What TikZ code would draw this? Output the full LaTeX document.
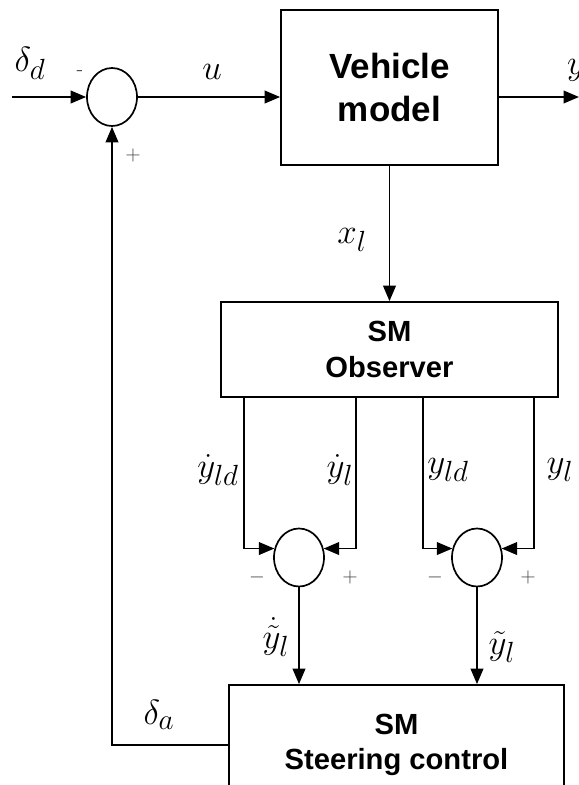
\documentclass[tikz,border=0pt]{standalone}
\usepackage{fontspec}
\setsansfont{Liberation Sans}
\usepackage{amsmath,amssymb}
\usepackage{tikz}
\usetikzlibrary{arrows.meta,shapes.geometric,positioning}
\tikzset{
  ctlbox/.style={rectangle, draw=black, line width=1.2pt, fill=white,
                 align=center, font=\huge\sffamily\bfseries},
  ctlsum/.style={ellipse, draw=black, line width=1.2pt, fill=white,
                 minimum width=1.25cm, minimum height=1.45cm, inner sep=0pt},
  ctlw/.style={line width=1.2pt, -{Triangle[length=11pt,width=9pt]}},
  ctllab/.style={font=\Huge, inner sep=0pt},
  ctlsgn/.style={font=\Large, text=black!75, inner sep=0pt}
}
\begin{document}
\begin{tikzpicture}[x=0.025cm, y=-0.025cm]
  \useasboundingbox (0,0) rectangle (579,785);
  \clip (0,0) rectangle (579,785);
  % blocks
  \node[ctlbox, font=\Huge\sffamily\bfseries, minimum width=5.425cm,
        minimum height=3.875cm] (veh) at (389.5,87.5) {Vehicle\\model};
  \node[ctlbox, minimum width=8.425cm, minimum height=2.375cm]
        (obs) at (389.5,349.5) {SM\\Observer};
  \node[ctlbox, minimum width=8.375cm, minimum height=3cm]
        (ster) at (396.5,745) {SM\\Steering control};
  % summing junctions
  \node[ctlsum] (s1) at (112,97) {};
  \node[ctlsum] (s2) at (299,557.5) {};
  \node[ctlsum] (s3) at (477,557.5) {};
  % free ends
  \coordinate (in) at (12,97);
  \coordinate (out) at (579,97);
  \coordinate (o1) at (244,397);
  \coordinate (o2) at (356,397);
  \coordinate (o3) at (423,397);
  \coordinate (o4) at (534,397);
  % wires
  \draw[ctlw] (in) -- (s1);
  \draw[ctlw] (s1.east) -- (s1.east -| veh.west);
  \draw[ctlw] (veh.east |- out) -- (out);
  \draw[ctlw] (veh.south) -- (obs.north);
  \draw[ctlw] (o1) |- (s2.160);
  \draw[ctlw] (o2) |- (s2.20);
  \draw[ctlw] (o3) |- (s3.160);
  \draw[ctlw] (o4) |- (s3.20);
  \draw[ctlw] (s2.south) -- (s2.south |- ster.north);
  \draw[ctlw] (s3.south) -- (s3.south |- ster.north);
  \draw[ctlw] (ster.west) -| (s1.south);
  % labels
  \node[ctllab] (ldd) at (30,63) {$\delta_d$};
  \node[ctllab] (lu) at (212,72) {$u$};
  \node[ctllab] (ly) at (576,70) {$y$};
  \node[ctllab] (lx) at (352,240) {$x_l$};
  \node[ctllab] (lyd1) at (218,470) {$\dot{y}_{ld}$};
  \node[ctllab] (lyd2) at (340,470) {$\dot{y}_l$};
  \node[ctllab] (lyd3) at (448,470) {$y_{ld}$};
  \node[ctllab] (lyd4) at (560,470) {$y_l$};
  \node[ctllab] (le1) at (276,637) {$\dot{\tilde{y}}_l$};
  \node[ctllab] (le2) at (502,647) {$\tilde{y}_l$};
  \node[ctllab] (lda) at (159,715) {$\delta_a$};
  % signs
  \node[ctlsgn] (g1) at (80,73) {-};
  \node[ctlsgn] (g2) at (133,155) {$+$};
  \node[ctlsgn] (g3) at (257,577) {$-$};
  \node[ctlsgn] (g4) at (350,577) {$+$};
  \node[ctlsgn] (g5) at (435,577) {$-$};
  \node[ctlsgn] (g6) at (528,577) {$+$};
\end{tikzpicture}
\end{document}
